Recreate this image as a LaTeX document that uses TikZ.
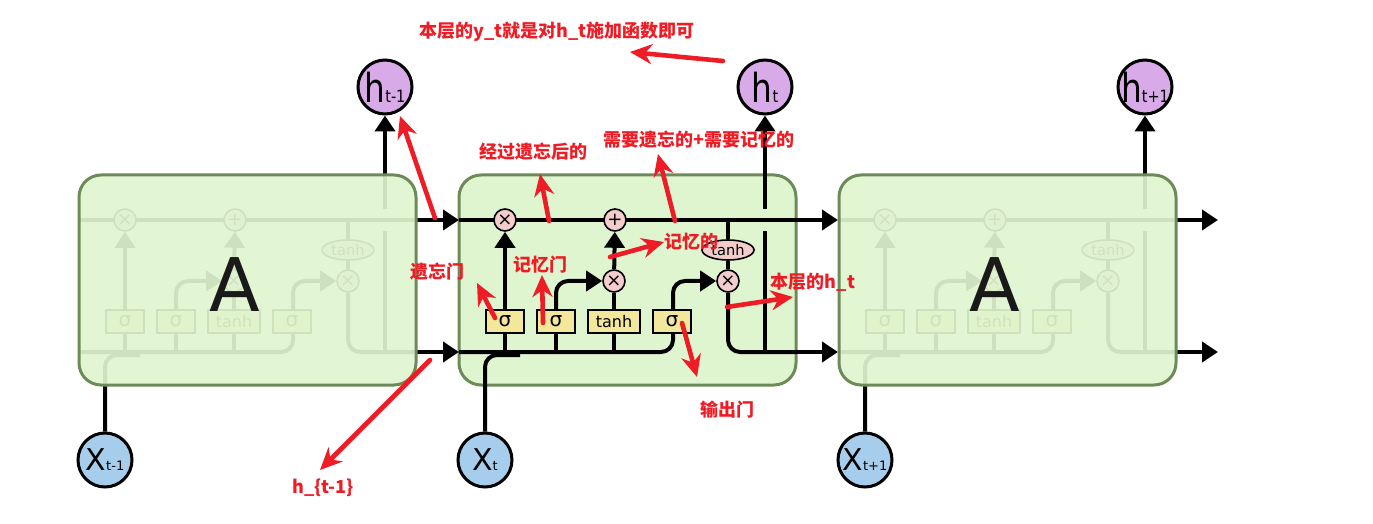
\documentclass[tikz,border=0pt]{standalone}
\usepackage{fontspec}
\setmainfont{DejaVu Sans}
\newfontfamily\cjk{Noto Sans CJK SC}
\usetikzlibrary{arrows.meta,shapes.geometric}
\pgfdeclarelayer{bg}\pgfdeclarelayer{lines}\pgfdeclarelayer{ghost}\pgfdeclarelayer{top}
\pgfsetlayers{bg,lines,main,ghost,top}
\definecolor{boxf}{HTML}{DFF5D0}
\definecolor{boxb}{HTML}{6D8B58}
\definecolor{pinkc}{HTML}{F5CCCC}
\definecolor{gatec}{HTML}{F2E79A}
\definecolor{hc}{HTML}{D8AAE8}
\definecolor{xc}{HTML}{A6CEEC}
\definecolor{redc}{HTML}{EE1C25}
\tikzset{
 blkline/.style={line width=2pt, draw=black},
 blk/.style={-{Triangle[length=8pt,width=10pt]}},
 opc/.style={circle, draw, line width=0.8pt, fill=pinkc, minimum size=11pt, inner sep=0pt, font=\fontsize{9}{9}\selectfont},
 gate/.style={rectangle, draw, line width=0.8pt, fill=gatec, minimum width=19pt, minimum height=11.5pt, inner sep=0pt, font=\fontsize{10}{10}\selectfont},
 tanhe/.style={ellipse, draw, line width=0.8pt, fill=pinkc, minimum width=26pt, minimum height=10pt, inner sep=0pt, font=\fontsize{7.3}{7.3}\selectfont},
 cellbox/.style={rectangle, rounded corners=11pt, draw=boxb, line width=1.5pt, fill=boxf, minimum width=168.5pt, minimum height=105pt, inner sep=0pt},
 ghostbox/.style={fill opacity=0.92},
 solidbox/.style={},
 hnode/.style={circle, draw, line width=1.5pt, fill=hc, minimum size=27pt, inner sep=0pt},
 xnode/.style={circle, draw, line width=1.5pt, fill=xc, minimum size=27pt, inner sep=0pt},
 ann/.style={text=redc, font=\cjk\bfseries\fontsize{9}{9}\selectfont, inner sep=0pt},
 rarr/.style={draw=redc, line width=2.3pt, line cap=round, -{Stealth[length=11pt,width=10pt]}},
 bigA/.style={text=black!90, font=\fontsize{37}{37}\selectfont, inner sep=0pt},
}
% #1 prefix, #2 x offset (px), #3 h subscript, #4 x subscript, #5 box style, #6 box layer
\newcommand\lstmcell[6]{%
\begin{scope}[xshift={#2*0.5pt}]
 \begin{pgfonlayer}{#6}
  \node[cellbox,#5] (#1box) at (627.5,280) {};
 \end{pgfonlayer}
 \node[opc] (#1f) at (505,220) {×};
 \node[opc] (#1p) at (615,220) {+};
 \node[opc] (#1i) at (614,281) {×};
 \node[opc] (#1o) at (728,281) {×};
 \node[tanhe] (#1th) at (728,250) {tanh};
 \node[gate] (#1g1) at (505,321.5) {σ};
 \node[gate] (#1g2) at (556,321.5) {σ};
 \node[gate, minimum width=26pt, font=\fontsize{8}{8}\selectfont] (#1g3) at (614,321.5) {tanh};
 \node[gate] (#1g4) at (672,321.5) {σ};
 \node[hnode] (#1h) at (765,87) {\makebox[0pt]{\scalebox{0.82}[1]{\fontsize{20}{20}\selectfont h}\scalebox{0.85}[1]{\fontsize{8.5}{8.5}\selectfont #3}}};
 \node[xnode] (#1x) at (485,460) {\makebox[0pt]{\fontsize{15}{15}\selectfont X\fontsize{6.5}{6.5}\selectfont #4}};
 \coordinate (#1L) at (459,220);
 \coordinate (#1R) at (796,220);
 \coordinate (#1bL) at (459,352);
 \coordinate (#1bR) at (796,352);
 \coordinate (#1bc) at (673,352);
 \coordinate (#1xc) at (485,355);
 \coordinate (#1xe) at (520,355);
 \coordinate (#1oc) at (728,352);
 \coordinate (#1hb) at (765,352);
 \coordinate (#1hg1) at (765,231);
 \coordinate (#1hg2) at (765,209);
 \begin{pgfonlayer}{lines}
  \draw[blkline] (#1L) -- (#1R);
  \draw[blkline,blk,rounded corners=6pt] (#1bL) -- (#1bc) -- (#1bc |- #1o) -- (#1o.west);
  \draw[blkline,rounded corners=6pt] (#1x) -- (#1xc) -- (#1xe);
  \draw[blkline] (#1g1.south) -- (#1g1.south |- #1bL);
  \draw[blkline] (#1g2.south) -- (#1g2.south |- #1bL);
  \draw[blkline] (#1g3.south) -- (#1g3.south |- #1bL);
  \draw[blkline,blk] (#1g1) -- (#1f);
  \draw[blkline,blk,rounded corners=6pt] (#1g2.north) -- (#1g2.north |- #1i) -- (#1i.west);
  \draw[blkline] (#1g3) -- (#1i);
  \draw[blkline,blk] (#1i) -- (#1p);
  \draw[blkline] (#1o |- #1L) -- (#1th);
  \draw[blkline] (#1th) -- (#1o);
  \draw[blkline,rounded corners=6pt] (#1o) -- (#1oc) -- (#1bR);
  \draw[blkline] (#1hb) -- (#1hg1);
  \draw[blkline,blk] (#1hg2) -- (#1h);
 \end{pgfonlayer}
\end{scope}}
\begin{document}
\begin{tikzpicture}[x=0.5pt,y=-0.5pt]
\useasboundingbox (0,0) rectangle (1373,524);
\lstmcell{l}{-380}{t-1}{t-1}{ghostbox}{ghost}
\lstmcell{m}{0}{t}{t}{solidbox}{bg}
\lstmcell{r}{380}{t+1}{t+1}{ghostbox}{ghost}
\begin{pgfonlayer}{ghost}
 \node[bigA] (lA) at (235,285) {A};
 \node[bigA] (rA) at (995,285) {A};
\end{pgfonlayer}
% arrows between cells
\draw[blkline,blk] (lR) -- (mL);
\draw[blkline,blk] (lbR) -- (mbL);
\coordinate (mRt) at (838,220);
\coordinate (mbRt) at (838,352);
\draw[blkline,blk] (mR) -- (mRt);
\draw[blkline,blk] (mbR) -- (mbRt);
\coordinate (endc) at (1218,220);
\coordinate (endh) at (1218,352);
\draw[blkline,blk] (rR) -- (endc);
\draw[blkline,blk] (rbR) -- (endh);
% red annotations
\begin{pgfonlayer}{top}
 \node[ann] (t1) at (557,32) {本层的y\_t就是对h\_t施加函数即可};
 \coordinate (a1s) at (723,61); \coordinate (a1e) at (630,52);
 \draw[rarr] (a1s) -- (a1e);
 \coordinate (a2s) at (435,218); \coordinate (a2e) at (400,116);
 \draw[rarr] (a2s) -- (a2e);
 \node[ann] (t3) at (533,152) {经过遗忘后的};
 \coordinate (a3s) at (549,221); \coordinate (a3e) at (540,174);
 \draw[rarr] (a3s) -- (a3e);
 \node[ann] (t4) at (699,140) {需要遗忘的+需要记忆的};
 \coordinate (a4s) at (675,221); \coordinate (a4e) at (658,154);
 \draw[rarr] (a4s) -- (a4e);
 \node[ann] (t5) at (691,242) {记忆的};
 \coordinate (a5s) at (610,257); \coordinate (a5e) at (664,242);
 \draw[rarr] (a5s) -- (a5e);
 \node[ann] (t6) at (437,272) {遗忘门};
 \coordinate (a6s) at (495,318); \coordinate (a6e) at (477,283);
 \draw[rarr] (a6s) -- (a6e);
 \node[ann] (t7) at (540,265) {记忆门};
 \coordinate (a7s) at (543,323); \coordinate (a7e) at (542,275);
 \draw[rarr] (a7s) -- (a7e);
 \node[ann] (t8) at (813,282) {本层的h\_t};
 \coordinate (a8s) at (727,307); \coordinate (a8e) at (793,297);
 \draw[rarr] (a8s) -- (a8e);
 \node[ann] (t9) at (727,410) {输出门};
 \coordinate (a9s) at (682,323); \coordinate (a9e) at (697,377);
 \draw[rarr] (a9s) -- (a9e);
 \node[ann] (t10) at (323,488) {h\_\{t-1\}};
 \coordinate (a10s) at (430,360); \coordinate (a10e) at (320,470);
 \draw[rarr] (a10s) -- (a10e);
\end{pgfonlayer}
\end{tikzpicture}
\end{document}
